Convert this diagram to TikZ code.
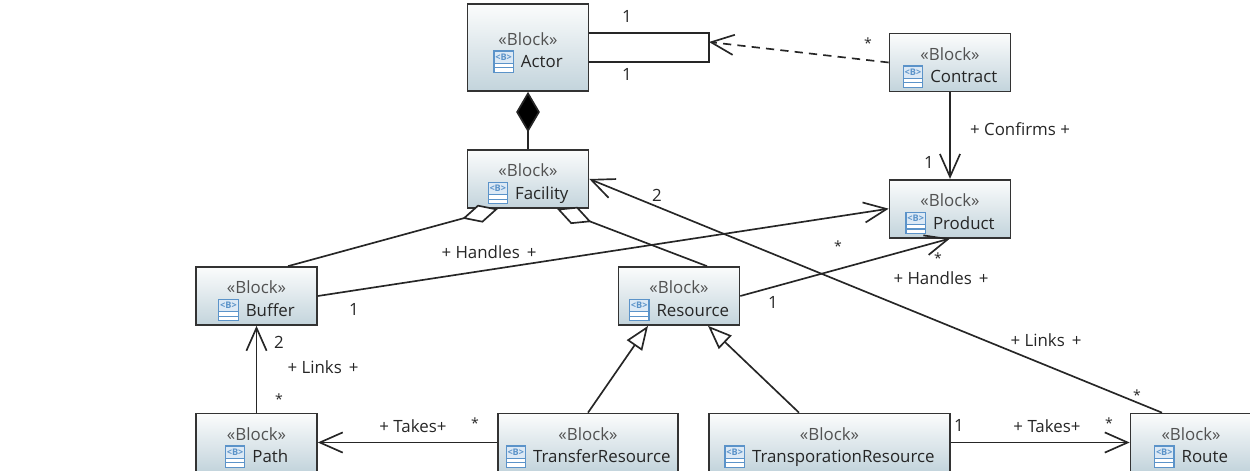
\documentclass[tikz,border=0pt]{standalone}
\usepackage{fontspec}
\setmainfont{Open Sans}
\usepackage{xcolor}
\usetikzlibrary{arrows.meta, calc}

\definecolor{blockline}{HTML}{333333}
\definecolor{blocktop}{HTML}{FBFCFC}
\definecolor{blockbottom}{HTML}{C3D4DC}
\definecolor{iconblue}{HTML}{5B93C9}
\definecolor{iconfill}{HTML}{DCE9F5}

\newcommand{\blockicon}{\tikz[baseline=2.4pt, x=1pt, y=1pt]{%
\draw[iconblue, fill=white, line width=0.7pt] (0,0) rectangle (11,12);
\fill[iconfill] (0.35,5) rectangle (10.65,11.65);
\draw[iconblue, line width=0.7pt] (0,2.5) -- (11,2.5);
\draw[iconblue, line width=0.7pt] (0,5) -- (11,5);
\node[iconblue, inner sep=0pt, minimum width=0pt, minimum height=0pt, font=\fontsize{5.2}{5}\selectfont\bfseries] (iconB) at (5.5,8.5) {<B>};
}\hspace{4pt}}

\newcommand{\blocktext}[1]{\rule{0pt}{13pt}\textcolor{blockline!85}{«Block»}\\\blockicon #1}

\tikzset{
  blockbox/.style={draw=blockline, line width=0.95pt, top color=blocktop, bottom color=blockbottom,
    minimum width=2.42cm, minimum height=1.16cm, inner sep=0pt, align=center, text=black!85,
    font=\fontsize{9.6}{13}\selectfont},
  lbl/.style={inner sep=0pt, text=black!85, font=\fontsize{9.6}{11}\selectfont},
  starlbl/.style={lbl, font=\fontsize{8}{10}\selectfont},
  link/.style={draw=black!85, line width=0.95pt},
  assoc/.style={link, -{Straight Barb[length=13pt, width=11.5pt]}},
  inherit/.style={link, -{Triangle[open, fill=white, length=13.6pt, width=10.5pt]}},
  aggr/.style={link, -{Diamond[open, fill=white, length=21pt, width=10.5pt]}},
  compo/.style={link, -{Diamond[length=23pt, width=13.5pt]}}
}

\begin{document}
\begin{tikzpicture}[x=0.02cm, y=-0.02cm]
\clip (0,0) rectangle (1250,470);

% Blocks
\node[blockbox, minimum height=1.74cm] (Actor) at (528,47.5) {\blocktext{Actor}};
\node[blockbox] (Facility) at (528,179) {\blocktext{Facility}};
\node[blockbox] (Contract) at (950,62.5) {\blocktext{Contract}};
\node[blockbox] (Product) at (950,208.7) {\blocktext{Product}};
\node[blockbox] (Buffer) at (256.5,296) {\blocktext{Buffer}};
\node[blockbox] (Resource) at (679,296) {\blocktext{Resource}};
\node[blockbox] (Path) at (256.5,442.5) {\blocktext{Path}};
\node[blockbox, minimum width=3.6cm] (TransferResource) at (588,442.5) {\blocktext{TransferResource}};
\node[blockbox, minimum width=4.82cm] (TransporationResource) at (829.5,442.5) {\blocktext{TransporationResource}};
\node[blockbox] (Route) at (1191,442.5) {\blocktext{Route}};

% Actor loop
\coordinate (looptop) at (709,33);
\coordinate (loopbot) at (709,62);
\coordinate (loophead) at (709,42);
\draw[link] (Actor.east |- looptop) -- (looptop) -- (loopbot) -- (Actor.east |- loopbot);
\draw[assoc, dash pattern=on 4.7pt off 3.5pt] (Contract.west) -- (loophead);

% Whole-part links
\draw[compo] (Facility.north) -- (Actor.south);
\draw[aggr] ($(Buffer.north)+(31.5,0)$) -- ($(Facility.south)+(-30,0)$);
\draw[aggr] ($(Resource.north)+(28,0)$) -- ($(Facility.south)+(29,0)$);

% Associations
\draw[assoc] (Contract.south) -- (Product.north);
\draw[assoc] (Buffer.east) -- (Product.west);
\draw[assoc] (Resource.east) -- (Product.south);
\draw[assoc] ($(Route.north)+(-29,0)$) -- (Facility.east);
\draw[assoc] (Path.north) -- (Buffer.south);
\draw[assoc] (TransferResource.west) -- (Path.east);
\draw[assoc] (TransporationResource.east) -- (Route.west);

% Generalizations
\draw[inherit] (TransferResource.north) -- ($(Resource.south)+(-31,0)$);
\draw[inherit] ($(TransporationResource.north)+(-30.5,0)$) -- ($(Resource.south)+(29,0)$);

% Labels
\node[lbl] (actTop) at (627,16) {1};
\node[lbl] (actBot) at (627,74) {1};
\node[starlbl] (conStar) at (868,43) {*};
\node[lbl] (confirms) at (1020,129) {+ Confirms +};
\node[lbl] (prodOne) at (929,162) {1};
\node[lbl] (facTwo) at (657,195) {2};
\node[lbl] (handlesA) at (489,252) {+ Handles\hspace{1.5pt} +};
\node[lbl] (buffOne) at (354,309) {1};
\node[starlbl] (prodStarA) at (838,246) {*};
\node[starlbl] (prodStarB) at (938,258) {*};
\node[lbl] (handlesB) at (941,278) {+ Handles\hspace{1.5pt} +};
\node[lbl] (resOne) at (773,302) {1};
\node[lbl] (linksA) at (1046,340) {+ Links\hspace{1.5pt} +};
\node[starlbl] (routeStar) at (1137,395) {*};
\node[lbl] (buffTwo) at (279,342) {2};
\node[lbl] (linksB) at (323,367) {+ Links\hspace{1.5pt} +};
\node[starlbl] (pathStar) at (279,399) {*};
\node[lbl] (takesA) at (413,426) {+ Takes+};
\node[starlbl] (takesStarA) at (475,423) {*};
\node[lbl] (transOne) at (959,425) {1};
\node[lbl] (takesB) at (1047,426) {+ Takes+};
\node[starlbl] (takesStarB) at (1109,423) {*};
\end{tikzpicture}
\end{document}
